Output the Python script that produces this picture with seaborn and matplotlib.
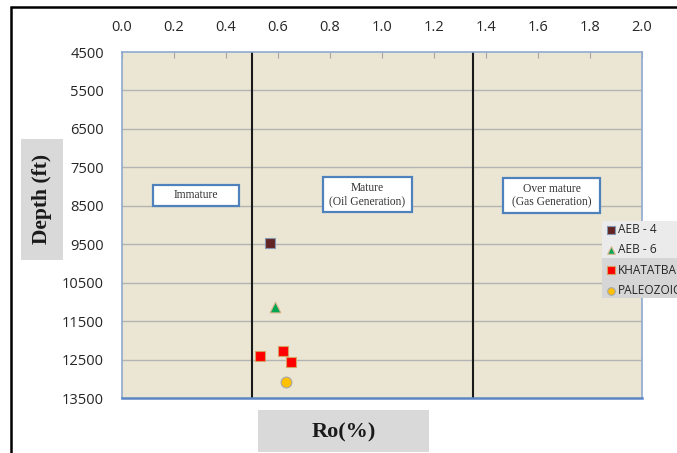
import matplotlib
matplotlib.use("Agg")
import matplotlib.pyplot as plt
import seaborn as sns
import pandas as pd
from matplotlib.patches import Rectangle

# Vitrinite reflectance samples
series = ["AEB - 4", "AEB - 6", "KHATATBA", "KHATATBA", "KHATATBA", "PALEOZOIC"]
ro = [0.57, 0.59, 0.53, 0.62, 0.65, 0.63]
depth = [9480, 11140, 12400, 12290, 12570, 13090]

x_ticks = [0.0, 0.2, 0.4, 0.6, 0.8, 1.0, 1.2, 1.4, 1.6, 1.8, 2.0]
y_ticks = [4500, 5500, 6500, 7500, 8500, 9500, 10500, 11500, 12500, 13500]

# Maturity window boundaries (Ro %) and zone labels
boundaries = [0.5, 1.35]
zone_labels = ["Immature", "Mature\n(Oil Generation)", "Over mature\n(Gas Generation)"]

W, H = 677, 453


def fx(px):
    return px / W


def fy(py):
    return 1 - py / H


df = pd.DataFrame({"Series": series, "Ro": ro, "Depth": depth})

sns.set_style("white")
plt.rcParams["font.family"] = ["Open Sans", "DejaVu Sans"]

fig = plt.figure(figsize=(W / 100, H / 100), dpi=100)
ax = fig.add_axes([fx(122), fy(398), 520 / W, 346 / H])
ax.set_facecolor("#ebe6d3")

palette = {"AEB - 4": "#632523", "AEB - 6": "#00a651",
           "KHATATBA": "#ff0000", "PALEOZOIC": "#ffc000"}
markers = {"AEB - 4": "s", "AEB - 6": "^", "KHATATBA": "s", "PALEOZOIC": "o"}
edges = {"AEB - 4": "#8496b0", "AEB - 6": "#d9b38c",
         "KHATATBA": "#d9a066", "PALEOZOIC": "#a6a6a6"}

for name in ["AEB - 4", "AEB - 6", "KHATATBA", "PALEOZOIC"]:
    sub = df[df["Series"] == name]
    sns.scatterplot(data=sub, x="Ro", y="Depth", ax=ax, color=palette[name],
                    marker=markers[name], s=60, edgecolor=edges[name],
                    linewidth=0.8, label=name, zorder=5)

ax.set_xlim(0, 2.0)
ax.set_ylim(13500, 4500)
ax.set_xticks(x_ticks)
ax.set_yticks(y_ticks)
ax.set_xticklabels([f"{v:.1f}" for v in x_ticks])
ax.set_yticklabels([str(v) for v in y_ticks])
ax.xaxis.tick_top()
ax.tick_params(axis="x", direction="in", length=4, color="#a6a6a6",
               labelsize=10.5, pad=12, labelcolor="#262626")
ax.tick_params(axis="y", direction="in", length=4, color="#a6a6a6",
               labelsize=10.5, pad=13, labelcolor="#262626")
ax.set_xlabel("")
ax.set_ylabel("")

for yv in y_ticks[1:-1]:
    ax.axhline(yv, color="#b3b3b3", lw=1.0, zorder=1)
for b in boundaries:
    ax.axvline(b, color="#1a1a1a", lw=1.5, zorder=2)

for sp in ax.spines.values():
    sp.set_color("#8ea9cf")
    sp.set_linewidth(1.2)
ax.spines["bottom"].set_color("#5b85c4")
ax.spines["bottom"].set_linewidth(1.8)

# Zone label boxes (pixel extents: left, top, right, bottom)
zone_boxes = [(153, 185, 239, 206), (323, 177, 412, 212), (503, 178, 600, 213)]
for (l, t, r, b), txt in zip(zone_boxes, zone_labels):
    fig.add_artist(Rectangle((fx(l), fy(b)), (r - l) / W, (b - t) / H,
                             transform=fig.transFigure, fc="white",
                             ec="#4f81bd", lw=1.6, zorder=6))
    fig.text(fx((l + r) / 2), fy((t + b) / 2), txt, ha="center", va="center",
             fontsize=8.3, family="Liberation Serif", color="#333333",
             linespacing=1.15, zorder=7)

# Legend on a two-tone grey panel that runs off the right edge
fig.add_artist(Rectangle((fx(602), fy(258)), 0.2, 37 / H,
                         transform=fig.transFigure, fc="#ebebeb", ec="none", zorder=8))
fig.add_artist(Rectangle((fx(602), fy(298)), 0.2, 40 / H,
                         transform=fig.transFigure, fc="#d6d6d6", ec="none", zorder=8))
handles, labels = ax.get_legend_handles_labels()
ax.get_legend().remove()
leg = fig.legend(handles, labels, loc="upper left", bbox_to_anchor=(fx(602), fy(219)),
                 frameon=False, fontsize=8.6,
                 handletextpad=0.15, handlelength=0.8, borderpad=0.35,
                 labelspacing=0.6, markerscale=0.7, borderaxespad=0)
leg.set_zorder(9)
for t in leg.get_texts():
    t.set_color("#262626")

# Axis titles on grey panels
fig.add_artist(Rectangle((fx(21), fy(260)), 42 / W, 121 / H,
                         transform=fig.transFigure, fc="#d9d9d9", ec="none"))
fig.text(fx(42), fy(199), "Depth (ft)", rotation=90, ha="center", va="center",
         fontsize=15.5, fontweight="bold", family="Liberation Serif", color="#1a1a1a")
fig.add_artist(Rectangle((fx(258), fy(452)), 171 / W, 42 / H,
                         transform=fig.transFigure, fc="#d9d9d9", ec="none"))
fig.text(fx(344), fy(432), "Ro(%)", ha="center", va="center",
         fontsize=16, fontweight="bold", family="Liberation Serif", color="#1a1a1a")

# Outer frame
fig.add_artist(Rectangle((fx(11), -0.1), 1.2, 1.1 - 7 / H,
                         transform=fig.transFigure, fc="none", ec="black", lw=1.8))

fig.savefig("out.png", dpi=100)
